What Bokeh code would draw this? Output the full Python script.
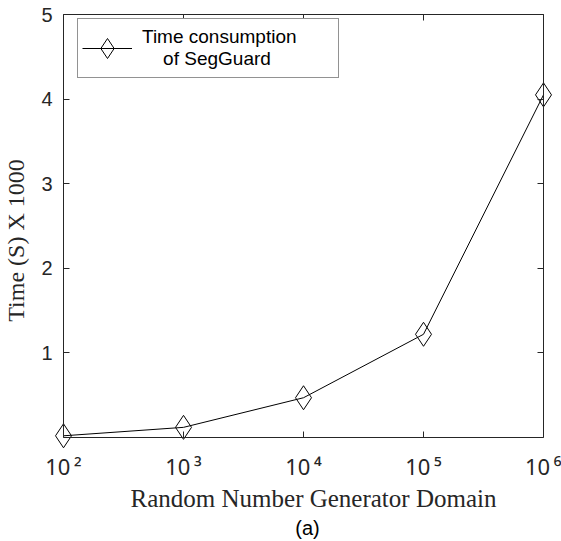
from bokeh.plotting import figure
from bokeh.models import (ColumnDataSource, FixedTicker, LinearAxis, Range1d,
                          Legend, LegendItem, Label, CustomJSTickFormatter)
from bokeh.embed import file_html
from bokeh.resources import INLINE
import math

# ---- data ----
domain_exponents = [2, 3, 4, 5, 6]            # 10^2 ... 10^6
time_x1000 = [0.02, 0.12, 0.47, 1.22, 4.05]   # Time (S) x 1000
y_ticks = [1, 2, 3, 4, 5]
SUP = {"2": "\u00b2", "3": "\u00b3", "4": "\u2074", "5": "\u2075", "6": "\u2076"}
x_tick_labels = ["10\u2009" + SUP[str(e)] for e in domain_exponents]
x_title = "Random Number Generator Domain"
y_title = "Time (S) X 1000"
caption = "(a)"

xs = list(range(len(domain_exponents)))

AX = "#262626"
SANS = "Liberation Sans"
SERIF = "Liberation Serif"

W, H = 561, 541
# plot box in pixels: x 63..543, y 14..437 (the frame spans the whole page)
PX_X = 120.0
PX_Y = 84.6
x_range = Range1d(-63 / PX_X, xs[-1] + (W - 543) / PX_X)
y_range = Range1d(-(H - 437) / PX_Y, y_ticks[-1] + 14 / PX_Y)

p = figure(width=W, height=H, output_backend="svg", toolbar_location=None,
           x_range=x_range, y_range=y_range,
           min_border_left=0, min_border_right=0, min_border_top=0,
           min_border_bottom=0, x_axis_location=None, y_axis_location=None)
p.grid.visible = False
p.outline_line_color = None
p.background_fill_color = "white"
p.border_fill_color = "white"

blank = CustomJSTickFormatter(code="return ''")

def mk_axis(ticks, loc, bounds):
    ax = LinearAxis(ticker=FixedTicker(ticks=ticks), fixed_location=loc, bounds=bounds)
    ax.major_tick_in = 6
    ax.major_tick_out = 0
    ax.minor_tick_in = 0
    ax.minor_tick_out = 0
    ax.axis_line_color = AX
    ax.major_tick_line_color = AX
    ax.major_label_text_color = AX
    return ax

x0, x1 = xs[0], xs[-1]
y0, y1 = 0, y_ticks[-1]

left = mk_axis(y_ticks, x0, (y0, y1))
left.major_label_text_font = SANS
left.major_label_text_font_size = "20px"
left.major_label_standoff = 11
p.add_layout(left, "left")

bottom = mk_axis(xs, y0, (x0, x1))
bottom.major_label_overrides = {i: t for i, t in zip(xs, x_tick_labels)}
bottom.major_label_text_font = "Noto Sans"
bottom.major_label_text_font_size = "22px"
bottom.major_label_standoff = 13
p.add_layout(bottom, "below")

right = mk_axis(y_ticks, x1, (y0, y1))
right.formatter = blank
p.add_layout(right, "right")

top = mk_axis(xs, y1, (x0, x1))
top.formatter = blank
p.add_layout(top, "above")

src = ColumnDataSource(dict(x=xs, y=time_x1000))
ln = p.line("x", "y", source=src, line_color="black", line_width=1)
mk = p.scatter("x", "y", source=src, marker="diamond", size=24,
               fill_color=None, line_color="black", line_width=1)

# axis titles and caption
p.add_layout(Label(x=(x0 + x1) / 2 + 10 / PX_X, y=-(498 - 437) / PX_Y, text=x_title,
                   text_align="center", text_baseline="alphabetic",
                   text_font=SERIF, text_font_size="25px", text_color=AX))
p.add_layout(Label(x=x0 - (63 - 15) / PX_X, y=(437 - 240) / PX_Y, text=y_title,
                   angle=math.pi / 2, text_align="center", text_baseline="alphabetic",
                   text_font=SERIF, text_font_size="24px", text_color=AX))
p.add_layout(Label(x=(x0 + x1) / 2 + 4 / PX_X, y=-(527 - 437) / PX_Y, text=caption,
                   text_align="center", text_baseline="alphabetic",
                   text_font=SANS, text_font_size="20px", text_color="black"))

legend = Legend(items=[LegendItem(label="Time consumption\n\u00a0\u00a0\u00a0\u00a0of SegGuard",
                                  renderers=[ln, mk])],
                location=(77, H - 78), glyph_width=50, glyph_height=50, label_standoff=10,
                label_width=192, padding=4, margin=0, label_text_font=SANS,
                label_text_font_size="19px", label_text_color="black",
                border_line_color=AX, border_line_width=1, background_fill_alpha=1)
p.add_layout(legend, "center")

open("out.html", "w").write(file_html(p, INLINE))
